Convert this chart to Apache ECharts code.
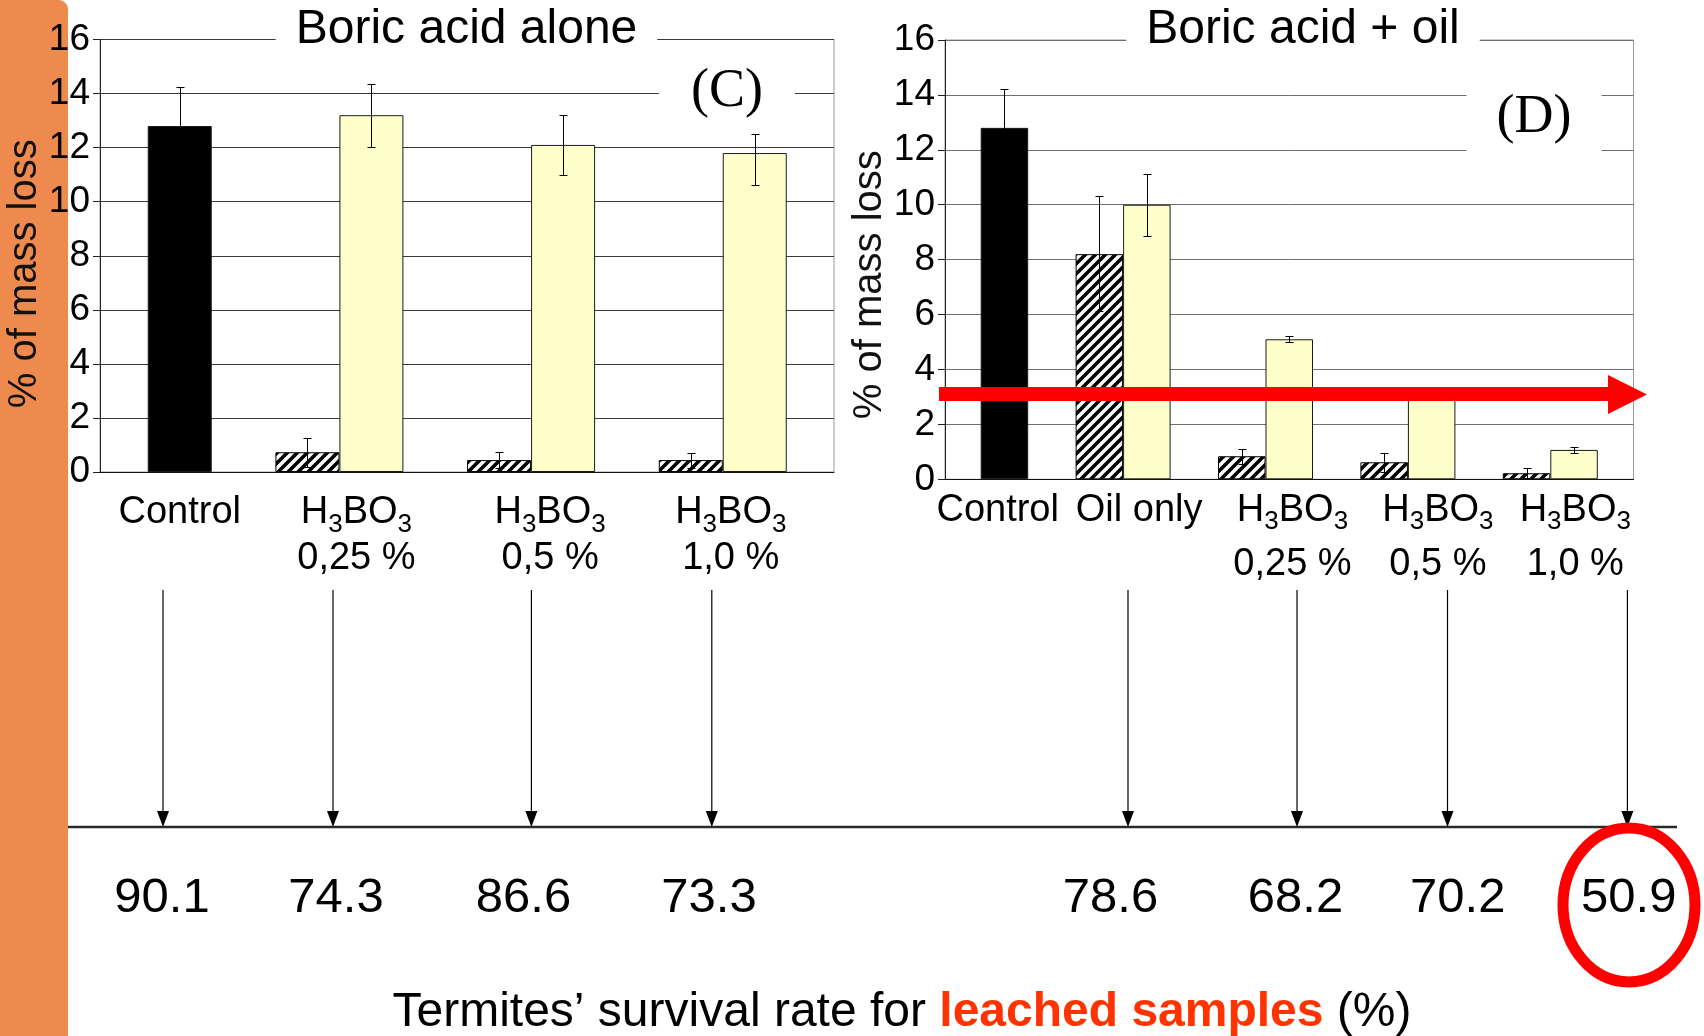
<!DOCTYPE html>
<html>
<head>
<meta charset="utf-8">
<script src="https://cdn.jsdelivr.net/npm/echarts@6/dist/echarts.min.js"></script>
<style>
html,body{margin:0;padding:0;background:#ffffff;}
#chart{width:1704px;height:1036px;}
</style>
</head>
<body>
<div id="chart"></div>
<script>
// ================= DATA =================
const yTickMin = 0, yTickMax = 16, yTickStep = 2;

// Panel C : boric acid alone
const categoriesC   = ['Control', 'H3BO3 0,25 %', 'H3BO3 0,5 %', 'H3BO3 1,0 %'];
const leachedC      = [null, 0.73, 0.44, 0.44];      // hatched bars
const leachedCLow   = [null, 0.20, 0.13, 0.14];
const leachedCHigh  = [null, 1.27, 0.75, 0.70];
const unleachedC    = [12.8, 13.2, 12.1, 11.8];      // control (black) / yellow bars
const unleachedCLow = [11.4, 12.04, 11.0, 10.63];
const unleachedCHigh= [14.23, 14.36, 13.21, 12.52];

// Panel D : boric acid + oil
const categoriesD   = ['Control', 'Oil only', 'H3BO3 0,25 %', 'H3BO3 0,5 %', 'H3BO3 1,0 %'];
const leachedD      = [null, 8.2, 0.84, 0.62, 0.22];
const leachedDLow   = [null, 6.13, 0.56, 0.27, 0.04];
const leachedDHigh  = [null, 10.31, 1.10, 0.97, 0.40];
const unleachedD    = [12.8, 10.0, 5.1, 3.1, 1.07];
const unleachedDLow = [11.4, 8.87, 5.0, 2.95, 0.97];
const unleachedDHigh= [14.21, 11.12, 5.21, 3.25, 1.17];

// Termites' survival rate for leached samples (%)
const survivalC = [90.1, 74.3, 86.6, 73.3];
const survivalD = [78.6, 68.2, 70.2, 50.9];

// ================= LAYOUT (pixels) =================
const L = {
  C: { axisX: 100, rightX: 834, top: 39.5, base: 472, barLeft: 51.9, barRight: 818.6, barW: 64,
       labelShift: [32, 17, 19, 8], lineH: 46, labelMargin: 17.5 },
  D: { axisX: 945, rightX: 1633.5, top: 40, base: 479.3, barLeft: 909.5, barRight: 1621.5, barW: 47.5,
       labelShift: [17, 16, 27, 30, 25], lineH: 54, labelMargin: 4 },
  arrowXC: [163, 333, 531.4, 711.8],
  arrowXD: [1128, 1297, 1447.5, 1627.4],
  numXC: [162, 336, 523.5, 709],
  numXD: [1110.5, 1295.5, 1457.7, 1628.7],
  arrowTop: 590, axisY: 827, numY: 898
};
const W = 1704, H = 1036;
const FONT = '"Liberation Sans", Arial, sans-serif';
const SERIF = '"Liberation Serif", "Times New Roman", serif';

// hatched pattern
function hatchCanvas() {
  const s = 10, c = document.createElement('canvas');
  c.width = s; c.height = s;
  const g = c.getContext('2d');
  g.fillStyle = '#ffffff'; g.fillRect(0, 0, s, s);
  g.strokeStyle = '#000000'; g.lineWidth = 3.6;
  g.beginPath();
  g.moveTo(-1, s + 1); g.lineTo(s + 1, -1);
  g.moveTo(-3, 3); g.lineTo(3, -3);
  g.moveTo(s - 3, s + 3); g.lineTo(s + 3, s - 3);
  g.stroke();
  return c;
}
const hatch = { image: hatchCanvas(), repeat: 'repeat' };

function fmtCat(v) {
  const m = v.match(/^H3BO3 (.*)$/);
  if (m) return '{n|H}{s|3}{n|BO}{s|3}\n{n|' + m[1] + '}';
  return '{n|' + v + '}';
}

function catData(cats, shifts) {
  return cats.map((c, i) => ({ value: c, textStyle: { padding: [0, 0, 0, 2 * shifts[i]] } }));
}

function gridPair(P) {
  return [
    { left: P.axisX, top: P.top, width: P.rightX - P.axisX, height: P.base - P.top,
      show: true, borderColor: '#9a9a9a', borderWidth: 1, backgroundColor: 'transparent' },
    { left: P.barLeft, top: P.top, width: P.barRight - P.barLeft, height: P.base - P.top }
  ];
}

function errSeries(xi, low, high, slot, barW) {
  return {
    type: 'custom', xAxisIndex: xi, yAxisIndex: xi, z: 10, silent: true,
    data: low.map((l, i) => [i, l, high[i]]).filter(d => d[1] != null),
    renderItem(params, api) {
      const i = api.value(0);
      const p0 = api.coord([i, api.value(1)]);
      const p1 = api.coord([i, api.value(2)]);
      const x = Math.round(p0[0] + slot * barW / 2) + 0.5;
      const y0 = Math.round(p0[1]) + 0.5, y1 = Math.round(p1[1]) + 0.5;
      const cap = 4, st = { stroke: '#000', lineWidth: 1 };
      return { type: 'group', children: [
        { type: 'line', shape: { x1: x, y1: y0, x2: x, y2: y1 }, style: st },
        { type: 'line', shape: { x1: x - cap, y1: y0, x2: x + cap, y2: y0 }, style: st },
        { type: 'line', shape: { x1: x - cap, y1: y1, x2: x + cap, y2: y1 }, style: st }
      ]};
    }
  };
}

function frameAxes(P, gi, gridColor, namePad) {
  return {
    x: { type: 'value', gridIndex: gi, min: 0, max: 1, show: true,
         axisLine: { show: true, lineStyle: { color: '#111', width: 1 } },
         axisTick: { show: false }, axisLabel: { show: false }, splitLine: { show: false } },
    y: { type: 'value', gridIndex: gi, min: yTickMin, max: yTickMax, interval: yTickStep,
         axisLine: { show: true, lineStyle: { color: '#222', width: 1 } },
         axisTick: { show: true, inside: false, length: 7, lineStyle: { color: '#222' } },
         axisLabel: { fontSize: 37, fontFamily: FONT, color: '#000', margin: 10 },
         splitLine: { show: true, lineStyle: { color: gridColor, width: 1 } },
         name: '% of mass loss', nameLocation: 'middle', nameGap: 47, nameRotate: 90,
         nameTextStyle: { fontSize: 40, fontFamily: FONT, color: '#111', padding: [0, namePad, 0, 0] } }
  };
}

function barAxes(P, gi, cats) {
  return {
    x: { type: 'category', gridIndex: gi, data: catData(cats, P.labelShift),
         axisLine: { show: false }, axisTick: { show: false },
         axisLabel: { interval: 0, margin: P.labelMargin, formatter: fmtCat, color: '#000',
           fontFamily: FONT, fontSize: 38, lineHeight: P.lineH,
           rich: { n: { fontSize: 38, fontFamily: FONT, lineHeight: P.lineH, color: '#000' },
                   s: { fontSize: 26, fontFamily: FONT, lineHeight: P.lineH, color: '#000', padding: [24, 0, 0, 0] } } },
         splitLine: { show: false } },
    y: { type: 'value', gridIndex: gi, min: yTickMin, max: yTickMax, show: false }
  };
}

const fC = frameAxes(L.C, 0, '#3a3a3a', 36);
const bC = barAxes(L.C, 1, categoriesC);
const fD = frameAxes(L.D, 2, '#6f6f6f', 50);
const bD = barAxes(L.D, 3, categoriesD);

function barSeries(xi, data, barW, style) {
  return { type: 'bar', xAxisIndex: xi, yAxisIndex: xi, data: data, barWidth: barW, barGap: '0%',
           itemStyle: style, z: 3, silent: true };
}
const solidStyle = { color: p => p.dataIndex === 0 ? '#000000' : '#ffffcc', borderColor: '#1a1a1a', borderWidth: 1 };
const hatchStyle = { color: hatch, borderColor: '#000000', borderWidth: 1 };

// ---------- graphic annotations ----------
const graphics = [];
graphics.push({ type: 'rect', z: -1, shape: { x: 0, y: 0, width: 68, height: H, r: [0, 9, 0, 0] },
                style: { fill: '#ee8a4e' } });

function titleText(text, x, y, font, size, pad) {
  return { type: 'text', z: 50, x: x, y: y,
           style: { text: text, fontFamily: font, fontSize: size, fill: '#000', align: 'center',
                    verticalAlign: 'middle', backgroundColor: '#ffffff', padding: pad } };
}
graphics.push(titleText('Boric acid alone', 466.5, 30, FONT, 48, [6, 20, 4, 20]));
graphics.push(titleText('Boric acid + oil', 1303, 30, FONT, 48, [6, 20, 4, 20]));
graphics.push(titleText('(C)', 727, 92, SERIF, 54, [0, 32, 0, 32]));
graphics.push(titleText('(D)', 1534, 118, SERIF, 54, [14, 30, 14, 30]));

// survival axis
graphics.push({ type: 'line', z: 20, shape: { x1: 68, y1: L.axisY, x2: 1677, y2: L.axisY },
                style: { stroke: '#2a2a2a', lineWidth: 2.5 } });
const arrowX = L.arrowXC.concat(L.arrowXD);
arrowX.forEach(x => {
  graphics.push({ type: 'line', z: 20, shape: { x1: x, y1: L.arrowTop, x2: x, y2: L.axisY - 14 },
                  style: { stroke: '#000', lineWidth: 1.2 } });
  graphics.push({ type: 'polygon', z: 20, shape: { points: [[x - 6, L.axisY - 16], [x + 6, L.axisY - 16], [x, L.axisY]] },
                  style: { fill: '#000' } });
});
const survival = survivalC.concat(survivalD);
const numX = L.numXC.concat(L.numXD);
survival.forEach((v, i) => {
  graphics.push({ type: 'text', z: 20, x: numX[i], y: L.numY,
    style: { text: v.toFixed(1), fontFamily: FONT, fontSize: 49, fill: '#000', align: 'center', verticalAlign: 'middle' } });
});
// highlight ellipse
graphics.push({ type: 'ellipse', z: 25, shape: { cx: 1629, cy: 905, rx: 66, ry: 77 },
                style: { fill: 'none', stroke: '#ff0000', lineWidth: 11 } });
// caption
graphics.push({ type: 'text', z: 20, x: 902, y: 1013,
  style: { text: '{a|Termites’ survival rate for }{b|leached samples}{a| (%)}', align: 'center', verticalAlign: 'middle',
           rich: { a: { fontFamily: FONT, fontSize: 48, fill: '#000', color: '#000' },
                   b: { fontFamily: FONT, fontSize: 48, fontWeight: 'bold', fill: '#ff3300', color: '#ff3300' } } } });
// red trend arrow on panel D
graphics.push({ type: 'polygon', z: 60,
  shape: { points: [[939, 387], [1608, 387], [1608, 375], [1647, 394.5], [1608, 414], [1608, 401], [939, 401]] },
  style: { fill: '#ff0000' } });

const option = {
  animation: false,
  backgroundColor: '#ffffff',
  grid: gridPair(L.C).concat(gridPair(L.D)),
  xAxis: [fC.x, bC.x, fD.x, bD.x],
  yAxis: [fC.y, bC.y, fD.y, bD.y],
  series: [
    barSeries(1, leachedC, L.C.barW, hatchStyle),
    barSeries(1, unleachedC, L.C.barW, solidStyle),
    barSeries(3, leachedD, L.D.barW, hatchStyle),
    barSeries(3, unleachedD, L.D.barW, solidStyle),
    errSeries(1, leachedCLow, leachedCHigh, -1, L.C.barW),
    errSeries(1, unleachedCLow, unleachedCHigh, 1, L.C.barW),
    errSeries(3, leachedDLow, leachedDHigh, -1, L.D.barW),
    errSeries(3, unleachedDLow, unleachedDHigh, 1, L.D.barW)
  ],
  graphic: { elements: graphics }
};

const chart = echarts.init(document.getElementById('chart'), null, { renderer: 'canvas', width: W, height: H });
chart.setOption(option);
</script>
</body>
</html>
